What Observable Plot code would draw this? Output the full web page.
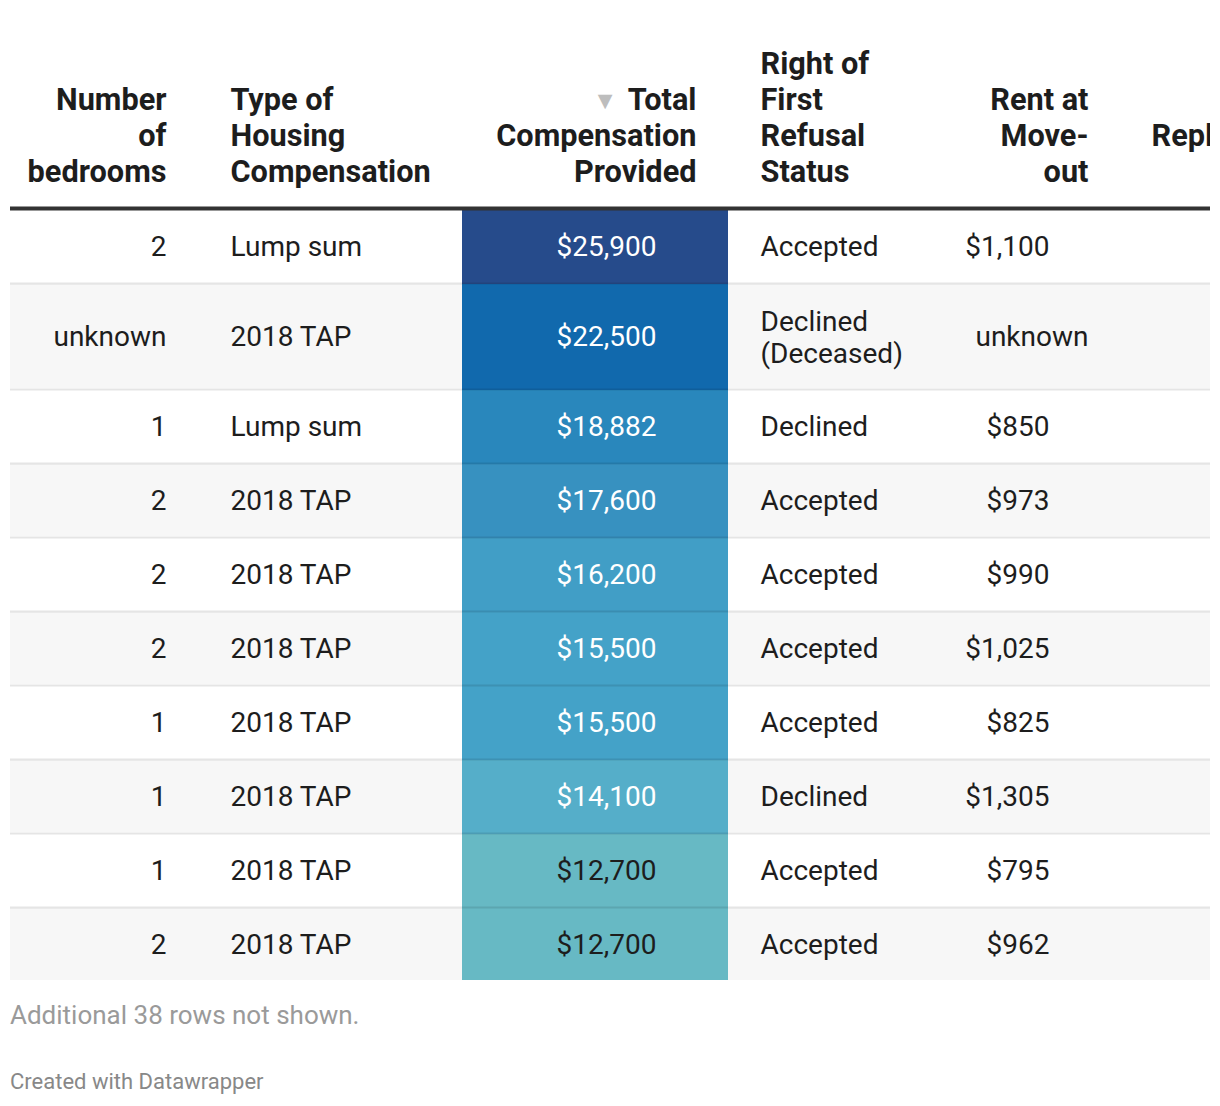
<!DOCTYPE html>
<html><head><meta charset="utf-8">
<script src="https://cdn.jsdelivr.net/npm/d3@7"></script>
<script src="https://cdn.jsdelivr.net/npm/@observablehq/plot@0.6"></script>
<style>
body{margin:0;background:#fff;font-family:Roboto,sans-serif;}
#chart svg{display:block;}
#notes{margin:20px 0 0 10px;font-size:26px;color:#9a9a9a;line-height:30px;}
#credit{margin:39px 0 0 10px;font-size:22px;color:#888;line-height:26px;}
</style></head><body>
<div id="chart"></div>
<div id="notes"></div>
<div id="credit"></div>
<script>
// ---- data ----
const bedrooms = [2, "unknown", 1, 2, 2, 2, 1, 1, 1, 2];
const housingType = ["Lump sum","2018 TAP","Lump sum","2018 TAP","2018 TAP","2018 TAP","2018 TAP","2018 TAP","2018 TAP","2018 TAP"];
const totalCompensation = [25900, 22500, 18882, 17600, 16200, 15500, 15500, 14100, 12700, 12700];
const firstRefusalStatus = ["Accepted","Declined (Deceased)","Declined","Accepted","Accepted","Accepted","Accepted","Declined","Accepted","Accepted"];
const rentAtMoveOut = [1100, null, 850, 973, 990, 1025, 825, 1305, 795, 962];
const headers = ["Number\nof\nbedrooms", "Type of\nHousing\nCompensation", "Total\nCompensation\nProvided", "Right of\nFirst\nRefusal\nStatus", "Rent at\nMove-\nout", "Replacement Unit\nRent"];
const colorStops = [12700, 14100, 15500, 16200, 17600, 18882, 22500, 25900];
const colorRange = ["#67b9c4", "#55aec9", "#44a2c8", "#419ec6", "#3791c0", "#2987bc", "#1169ad", "#264b8b"];
const notesText = "Additional 38 rows not shown.";
const creditText = "Created with Datawrapper";

// ---- layout ----
const W = 1220, tableW = 1200;
const colWidths = [188, 264, 266, 217, 175, 308];
const colAlign = ["end", "start", "end", "start", "end", "end"];
const numInset = [0, 0, 40, 0, 39, 0];
const pad = 32;
const fontSize = 28, headFontSize = 30.7, headLine = 36, bodyLine = 32;
const headBottomCenter = 171, ruleTop = 206, ruleW = 4;
const rowBase = 72, border = 2;
const textColor = "#1d1d1d";

const edges = [0];
colWidths.forEach(w => edges.push(edges[edges.length - 1] + w));
const cols = headers.map((h, i) => ({
  header: h, align: colAlign[i], left: edges[i], right: edges[i + 1],
  anchor: colAlign[i] === "end" ? edges[i + 1] - pad : edges[i] + pad,
  numAnchor: edges[i + 1] - pad - numInset[i]
}));

const ctx = document.createElement("canvas").getContext("2d");
function wrap(text, font, maxW) {
  ctx.font = font;
  const words = String(text).split(" ");
  const lines = [];
  let cur = "";
  for (const w of words) {
    const t = cur ? cur + " " + w : w;
    if (cur && ctx.measureText(t).width > maxW) { lines.push(cur); cur = w; }
    else cur = t;
  }
  if (cur) lines.push(cur);
  return lines.join("\n");
}

const bodyFont = `${fontSize}px Roboto`;
let yCursor = ruleTop + ruleW;
const rows = totalCompensation.map((v, i) => {
  const status = wrap(firstRefusalStatus[i], bodyFont, cols[3].right - cols[3].left - 2 * pad);
  const lines = status.split("\n").length;
  const h = rowBase + (lines - 1) * bodyLine;
  const r = {i, bedrooms: bedrooms[i], type: housingType[i], comp: v, status, lines, rent: rentAtMoveOut[i], top: yCursor, bottom: yCursor + h};
  r.center = (r.top + r.bottom) / 2;
  yCursor = r.bottom + border;
  return r;
});
const H = rows[rows.length - 1].bottom;
rows.forEach((r, i) => r.cellBottom = i < rows.length - 1 ? r.bottom + border : r.bottom);

const cscale = d3.scaleLinear().domain(colorStops).range(colorRange);
const isLight = v => {
  const c = d3.rgb(cscale(v));
  const f = x => { x /= 255; return x <= 0.03928 ? x / 12.92 : Math.pow((x + 0.055) / 1.055, 2.4); };
  return 0.2126 * f(c.r) + 0.7152 * f(c.g) + 0.0722 * f(c.b) > 0.39;
};
const money = d3.format("$,");
const headY = headBottomCenter + 10;

const headerMarks = ["start", "end"].map(a => Plot.text(cols.filter(c => c.align === a), {
  x: "anchor", y: () => headY, text: "header", textAnchor: a, lineAnchor: "bottom",
  fontSize: headFontSize, fontWeight: "bold", lineHeight: headLine / headFontSize, fill: textColor, clip: true
}));

const body = {y: "center", dy: 1, fontSize, fill: textColor};
const c3 = cols[2];
const chart = Plot.plot({
  width: W, height: H,
  marginLeft: 10, marginRight: 10, marginTop: 0, marginBottom: 0,
  x: {domain: [0, tableW], range: [10, 10 + tableW], axis: null},
  y: {domain: [0, H], range: [0, H], axis: null},
  color: {type: "linear", domain: colorStops, range: colorRange},
  style: {fontFamily: "Roboto, sans-serif", background: "#fff"},
  marks: [
    Plot.rect(rows.filter(r => r.i % 2 === 1), {x1: () => 0, x2: () => tableW, y1: "top", y2: "bottom", fill: "#f7f7f7"}),
    Plot.rect(rows, {x1: () => c3.left, x2: () => c3.right, y1: "top", y2: "cellBottom", fill: "comp"}),
    Plot.ruleY(rows.slice(0, -1), {y: r => r.bottom + border / 2, x1: () => 0, x2: () => tableW, stroke: "#000", strokeOpacity: 0.1, strokeWidth: border}),
    Plot.ruleY([{}], {y: () => ruleTop + ruleW / 2, x1: () => 0, x2: () => tableW, stroke: "#333", strokeWidth: ruleW}),
    ...headerMarks,
    Plot.text([c3], {x: "anchor", y: () => headBottomCenter - 2 * headLine, text: () => "▼", dx: -79, dy: 1, textAnchor: "end", lineAnchor: "middle", fontSize: 25, fill: "#bdbdbd"}),
    // column 1
    Plot.text(rows, {...body, x: () => cols[0].numAnchor, text: "bedrooms", textAnchor: "end"}),
    // column 2
    Plot.text(rows, {...body, x: () => cols[1].anchor, text: "type", textAnchor: "start"}),
    // column 3
    Plot.text(rows.filter(r => !isLight(r.comp)), {...body, x: () => c3.numAnchor, text: r => money(r.comp), textAnchor: "end", fill: "#fff"}),
    Plot.text(rows.filter(r => isLight(r.comp)), {...body, x: () => c3.numAnchor, text: r => money(r.comp), textAnchor: "end"}),
    // column 4
    Plot.text(rows.filter(r => r.lines === 1), {...body, x: () => cols[3].anchor, text: "status", textAnchor: "start"}),
    Plot.text(rows.filter(r => r.lines > 1), {...body, dy: 0, x: () => cols[3].anchor, text: "status", textAnchor: "start", lineHeight: bodyLine / fontSize}),
    // column 5
    Plot.text(rows.filter(r => r.rent != null), {...body, x: () => cols[4].numAnchor, text: r => money(r.rent), textAnchor: "end"}),
    Plot.text(rows.filter(r => r.rent == null), {...body, x: () => cols[4].anchor, text: () => "unknown", textAnchor: "end"})
  ]
});
document.getElementById("chart").append(chart);
document.getElementById("notes").textContent = notesText;
document.getElementById("credit").textContent = creditText;
</script>
</body></html>
